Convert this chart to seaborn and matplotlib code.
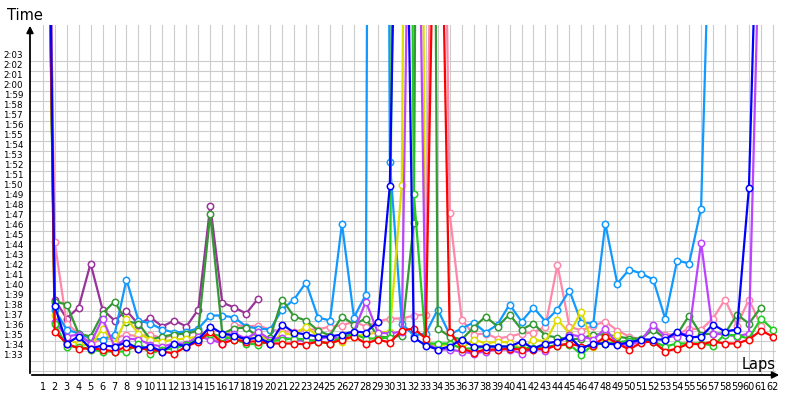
import numpy as np
import pandas as pd
import matplotlib
matplotlib.use("Agg")
import matplotlib.pyplot as plt
import seaborn as sns

N = np.nan

# lap times in seconds per driver (lap 1 .. 62)
laps = list(range(1, 63))

red = [185, 95.9, 94.7, 94.2, 94.2, 94.1, 93.9, 94.4, 94.2, 94.1,
       93.9, 93.7, 94.4, 94.9, 95.9, 94.7, 95.1, 94.9, 94.9, 94.7,
       94.7, 94.7, 94.6, 94.9, 94.7, 95.1, 95.4, 94.7, 95.1, 94.8,
       96.0, 96.2, 95.2, 161, 95.9, 94.2, 93.8, 94.1, 94.1, 94.2,
       94.1, 94.1, 94.2, 94.5, 94.7, 94.4, 94.5, 95.4, 94.7, 94.1,
       94.8, 94.9, 93.9, 94.2, 94.7, 94.6, 94.9, 94.7, 94.7, 95.1,
       96.0, 95.4]

blue = [190, 98.5, 94.7, 95.4, 94.2, 94.5, 94.4, 94.8, 94.2, 94.4,
        93.9, 94.7, 94.4, 95.1, 96.4, 95.7, 95.5, 95.1, 95.3, 94.7,
        96.6, 95.8, 95.6, 95.4, 95.4, 95.6, 95.9, 95.8, 96.9, 110.5,
        174, 95.3, 94.5, 94.1, 94.4, 95.1, 94.4, 94.4, 94.4, 94.4,
        94.9, 94.2, 94.7, 94.9, 95.4, 94.2, 94.7, 94.7, 94.6, 94.8,
        95.1, 95.1, 95.1, 95.9, 95.3, 95.4, 96.6, 95.9, 96.1, 110.3,
        153, N]

lightblue = [180, 98.1, 96.1, 95.7, 95.2, 95.1, 95.6, 101.1, 97.0, 96.7,
             96.1, 95.8, 95.9, 96.2, 97.5, 97.5, 97.3, 96.4, 96.2, 96.1,
             98.1, 99.1, 100.8, 97.3, 97.0, 106.7, 97.3, 99.6, 400, 112.9,
             96.7, 95.5, 95.7, 98.1, 95.6, 96.2, 96.8, 95.8, 96.6, 98.6,
             96.9, 98.3, 96.9, 98.1, 100.0, 96.8, 96.7, 106.7, 100.7, 102.1,
             101.7, 101.1, 97.2, 103.0, 102.7, 108.2, 150, N, N, N,
             N, N]

darkgreen = [175, 98.9, 98.6, 95.7, 95.4, 97.7, 98.9, 96.9, 96.7, 95.1,
             95.4, 95.6, 95.7, 96.0, 107.7, 95.7, 96.2, 96.3, 95.3, 95.3,
             99.1, 97.4, 97.0, 96.0, 95.5, 97.4, 96.6, 97.2, 95.4, 95.3,
             95.5, 106.8, 289, 96.2, 95.4, 95.1, 96.3, 97.4, 96.4, 97.6,
             96.1, 96.7, 95.5, 95.3, 95.1, 95.2, 95.6, 95.6, 95.4, 95.2,
             95.2, 96.1, 95.2, 95.6, 97.5, 95.6, 95.7, 95.7, 97.6, 96.7,
             98.3, N]

green = [178, 96.7, 94.4, 94.4, 94.1, 93.9, 93.9, 93.9, 94.7, 93.7,
         94.1, 94.2, 94.6, 95.1, 95.7, 95.4, 95.1, 94.7, 94.6, 94.9,
         95.1, 95.2, 95.1, 94.9, 94.7, 95.4, 95.6, 95.2, 95.2, 95.3,
         290, 109.7, 94.7, 94.7, 94.7, 94.2, 94.2, 94.4, 94.4, 94.4,
         94.2, 94.3, 94.4, 94.5, 94.6, 93.6, 94.6, 94.7, 94.8, 95.0,
         95.0, 94.9, 94.4, 94.7, 94.7, 94.7, 94.5, 95.6, 95.5, 95.2,
         97.2, 96.1]

yellow = [182, 97.6, 95.1, 94.7, 94.4, 96.2, 94.7, 97.2, 95.7, 95.1,
          94.9, 95.1, 95.2, 95.4, 95.5, 95.2, 95.4, 95.1, 95.9, 94.7,
          95.7, 95.6, 96.4, 95.4, 95.4, 94.9, 95.4, 95.6, 95.8, 95.9,
          110.6, 268, 94.9, 94.4, 94.7, 94.2, 95.1, 94.7, 94.9, 94.8,
          94.2, 95.1, 94.9, 97.1, 95.7, 97.9, 94.4, 94.9, 95.6, N,
          N, N, N, N, N, N, N, N, N, N,
          N, N]

purple = [200, 99.1, 97.2, 98.3, 102.7, 98.1, 97.0, 98.0, 96.6, 97.3,
          96.4, 97.0, 96.4, 98.1, 108.5, 98.8, 98.3, 97.7, 99.2] + [N] * 43

violet = [188, 96.9, 95.4, 95.6, 94.7, 97.2, 94.4, 95.2, 95.1, 94.6,
          94.4, 94.7, 94.7, 95.4, 95.1, 94.7, 95.7, 95.2, 95.9, 95.1,
          95.3, 95.1, 94.9, 95.1, 95.4, 95.1, 95.9, 98.9, 95.8, 95.7,
          95.9, 175, 94.8, 94.1, 94.1, 93.9, 93.7, 93.9, 94.1, 94.1,
          93.7, 94.2, 94.0, 94.7, 95.6, 95.4, 95.1, 96.2, 94.7, 94.5,
          95.0, 96.6, 95.4, 95.4, 95.8, 104.8, 95.7, 95.6, 95.4, 95.7,
          142, N]

pink = [183, 104.9, 96.7, 95.7, 94.7, 95.1, 95.2, 95.6, 95.4, 95.6,
        95.2, 95.6, 95.7, 95.9, 95.4, 94.7, 96.6, 96.4, 96.5, 96.1,
        95.9, 95.9, 96.1, 96.1, 96.4, 96.5, 96.9, 96.4, 96.9, 97.2,
        97.2, 97.5, 97.6, 195, 107.8, 97.1, 95.6, 95.7, 95.2, 95.4,
        95.7, 95.8, 96.4, 102.6, 96.4, 96.0, 96.5, 96.9, 96.0, 95.4,
        95.1, 96.2, 95.6, 95.6, 96.2, 96.1, 97.2, 99.1, 96.5, 99.1,
        96.5, N]

drivers = ["purple", "pink", "lightblue", "darkgreen", "yellow",
           "violet", "green", "red", "blue"]
colors = ["#993399", "#FF88AA", "#1199FF", "#339933", "#DDDD00",
          "#BB44FF", "#22CC22", "#FF0000", "#0000FF"]
series = [purple, pink, lightblue, darkgreen, yellow, violet, green, red, blue]

df = pd.DataFrame({name: vals for name, vals in zip(drivers, series)})
df["lap"] = laps
df = df.melt(id_vars="lap", var_name="driver", value_name="sec").dropna()

fig = plt.figure(figsize=(8, 4), dpi=100)
ax = fig.add_axes([30 / 800, 25 / 400, 746 / 800, 350 / 400])

sns.lineplot(data=df, x="lap", y="sec", hue="driver", hue_order=drivers,
             palette=colors, marker="o", markersize=4.6, linewidth=1.6,
             markerfacecolor="white", markeredgewidth=1.1, errorbar=None,
             legend=False, ax=ax)
for line in ax.lines:
    line.set_markeredgecolor(line.get_color())

ax.set_xlim(-0.06, 62.26)
ax.set_ylim(91.55, 126.55)
ax.set_xticks(laps)
ax.set_xticklabels([str(l) for l in laps])
yt = list(range(92, 124))
ax.set_yticks(yt)
ax.set_yticklabels([""] + ["%d:%02d" % (t // 60, t % 60) for t in yt[1:]])
for lab in ax.get_yticklabels():
    lab.set_verticalalignment("bottom")
ax.grid(True, color="#cccccc", linewidth=0.8)
ax.set_axisbelow(True)
for s in ax.spines.values():
    s.set_visible(False)
ax.tick_params(length=0)
ax.tick_params(axis="x", labelsize=7, pad=5)
ax.tick_params(axis="y", labelsize=6.3, pad=5)
ax.set_xlabel("")
ax.set_ylabel("")

# axes with arrow heads
ax.annotate("", xy=(30 / 800, 1 - 23 / 400), xytext=(30 / 800, 1 - 376 / 400),
            xycoords="figure fraction",
            arrowprops=dict(arrowstyle="-|>", color="black", lw=1.3, mutation_scale=10))
ax.annotate("", xy=(782 / 800, 1 - 375 / 400), xytext=(29 / 800, 1 - 375 / 400),
            xycoords="figure fraction",
            arrowprops=dict(arrowstyle="-|>", color="black", lw=1.3, mutation_scale=10))
fig.text(25 / 800, 1 - 15 / 400, "Time", fontsize=10.5, ha="center", va="center")
fig.text(759 / 800, 1 - 365 / 400, "Laps", fontsize=10.5, ha="center", va="center")

fig.savefig("out.png", dpi=100, facecolor="white")
